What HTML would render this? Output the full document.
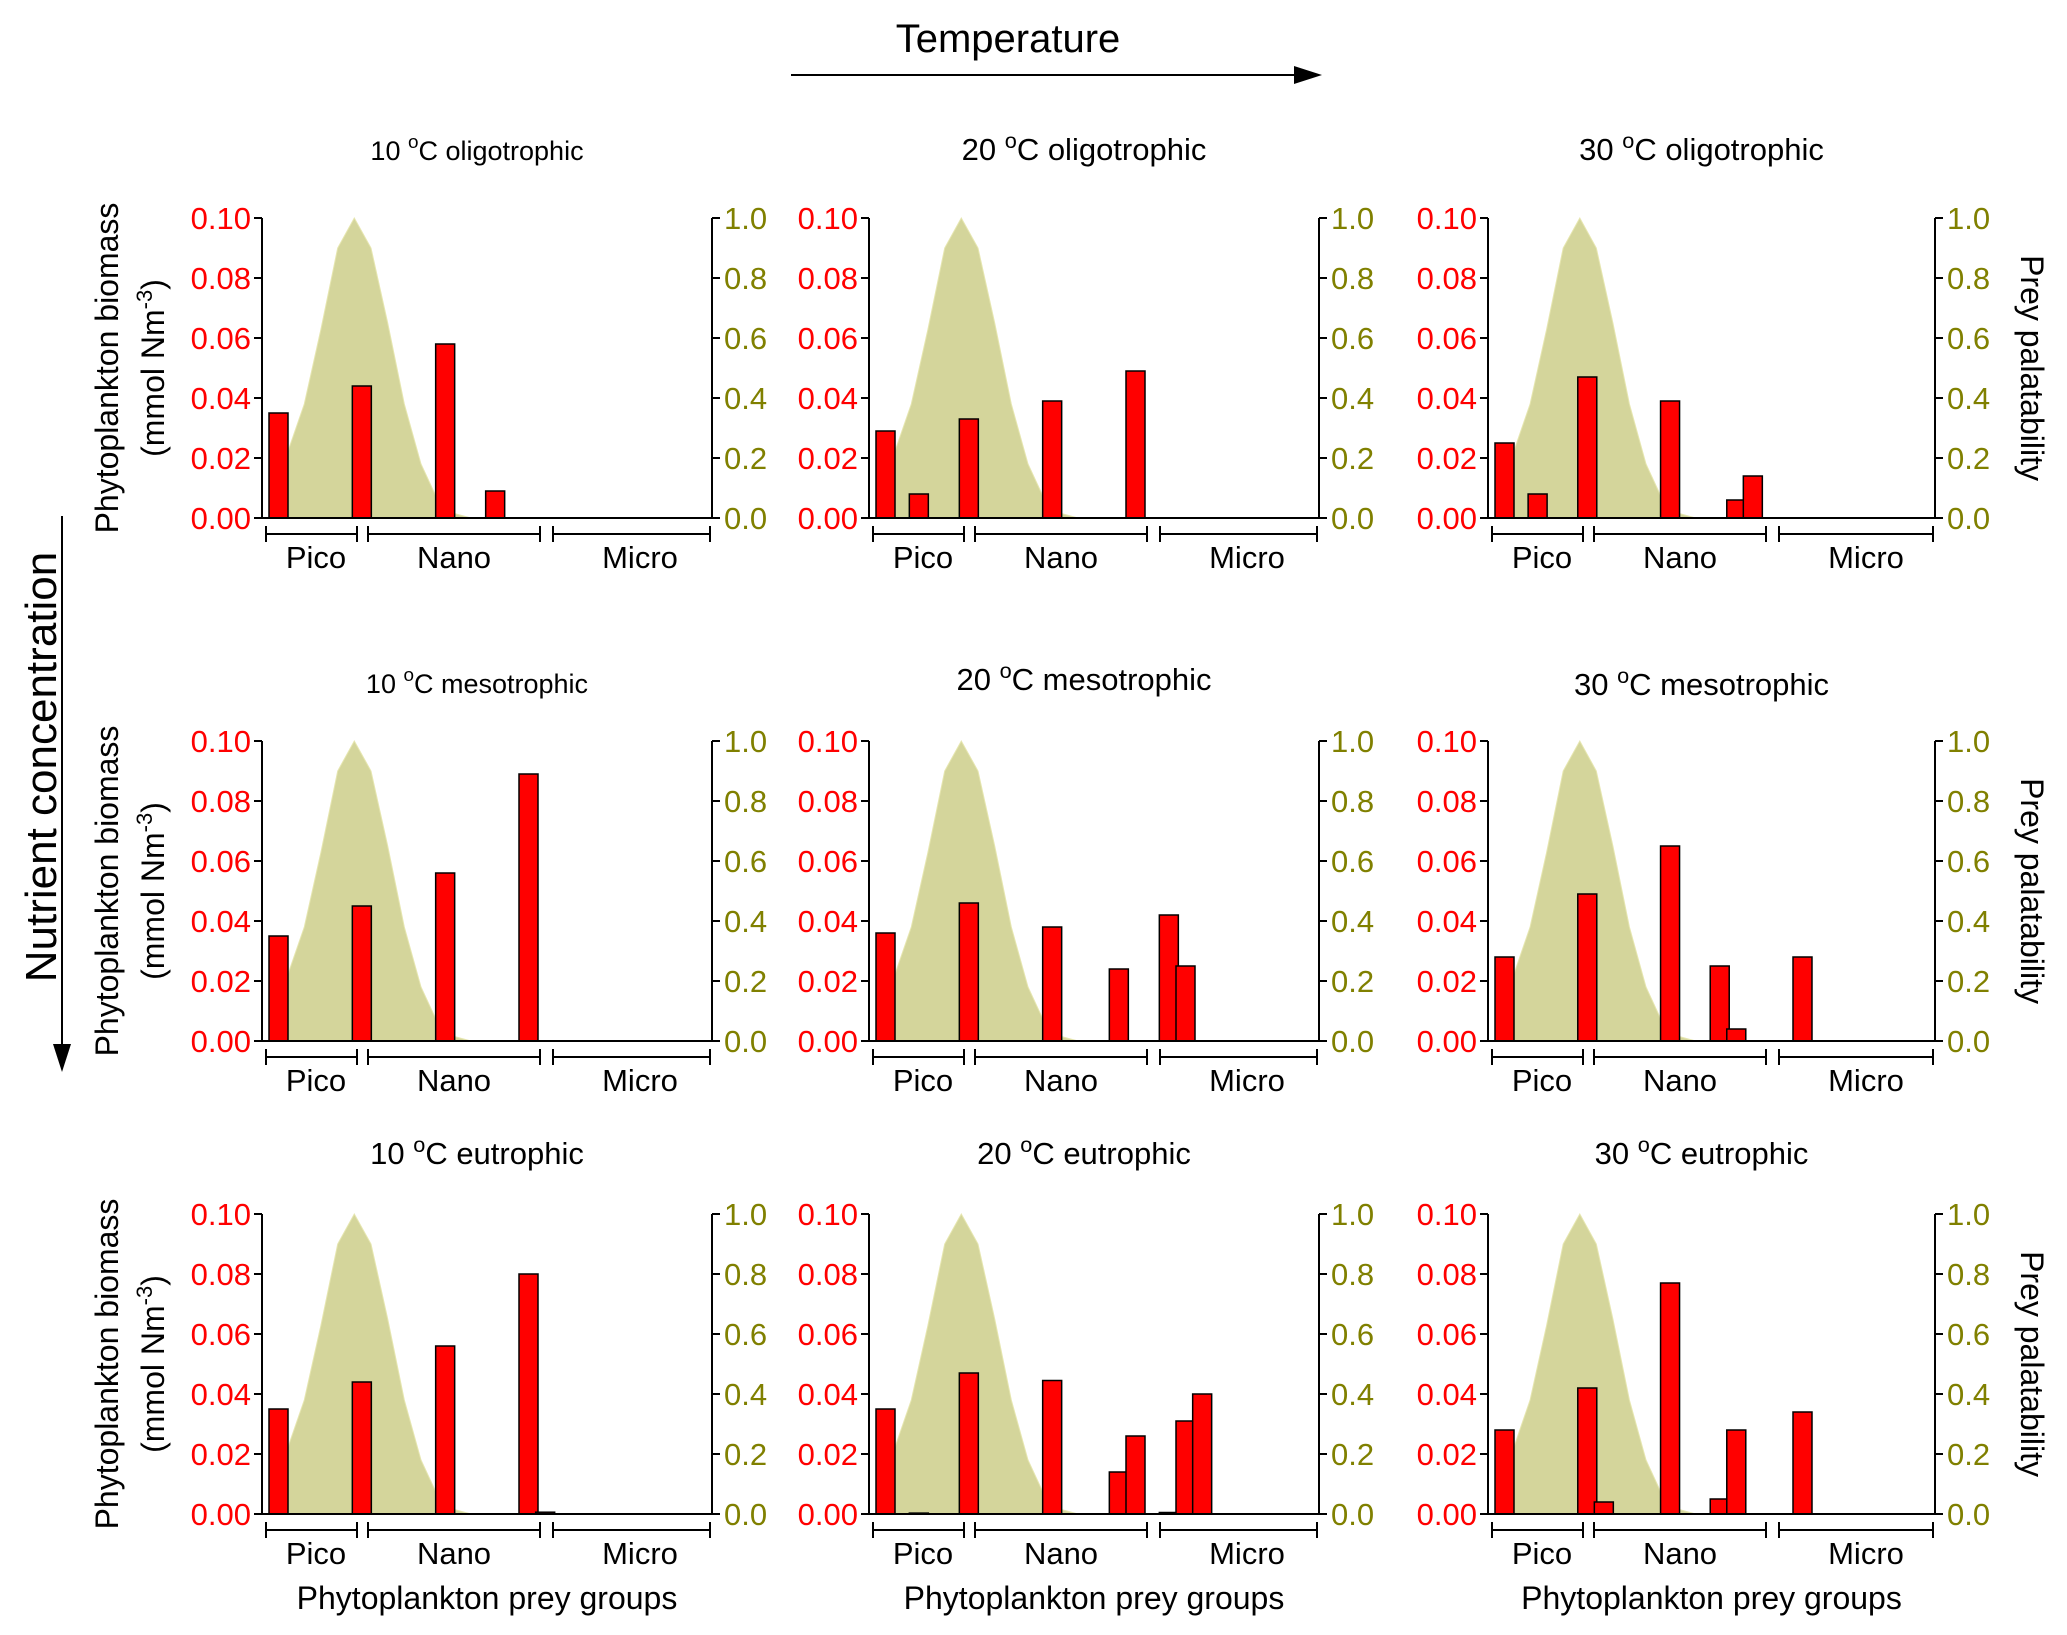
<!DOCTYPE html>
<html><head><meta charset="utf-8">
<style>
html,body{margin:0;padding:0;background:#fff;}
svg{display:block;font-family:"Liberation Sans",Arial,sans-serif;}
</style></head>
<body>
<svg id="chart" width="2067" height="1635" viewBox="0 0 2067 1635" xmlns="http://www.w3.org/2000/svg">
<text x="1008" y="52" font-size="40" text-anchor="middle">Temperature</text>
<line x1="791" y1="75" x2="1300" y2="75" stroke="#000" stroke-width="2"/>
<polygon points="1322,75 1294,66 1294,84" fill="#000"/>
<text x="0" y="0" font-size="44" text-anchor="middle" transform="translate(56,767) rotate(-90)">Nutrient concentration</text>
<line x1="62" y1="516" x2="62" y2="1050" stroke="#000" stroke-width="2"/>
<polygon points="62,1072 53,1044 71,1044" fill="#000"/>
<g id="panels"></g>
</svg>
<script>
// ---- data ----
const panelTitles = [
  "10 °C oligotrophic","20 °C oligotrophic","30 °C oligotrophic",
  "10 °C mesotrophic","20 °C mesotrophic","30 °C mesotrophic",
  "10 °C eutrophic","20 °C eutrophic","30 °C eutrophic"];
const groupLabels = ["Pico","Nano","Micro"];
const leftTicks = ["0.00","0.02","0.04","0.06","0.08","0.10"];
const rightTicks = ["0.0","0.2","0.4","0.6","0.8","1.0"];
const palatability = [0,0.22,0.38,0.63,0.9,1.0,0.9,0.65,0.38,0.18,0.06,0.015,0];
const slots1 = [0,5,10,13];           const biomass1 = [0.035,0.044,0.058,0.009];
const slots2 = [0,2,5,10,15];         const biomass2 = [0.029,0.008,0.033,0.039,0.049];
const slots3 = [0,2,5,10,14,15];      const biomass3 = [0.025,0.008,0.047,0.039,0.006,0.014];
const slots4 = [0,5,10,15];           const biomass4 = [0.035,0.045,0.056,0.089];
const slots5 = [0,5,10,14,17,18];     const biomass5 = [0.036,0.046,0.038,0.024,0.042,0.025];
const slots6 = [0,5,10,13,14,18];     const biomass6 = [0.028,0.049,0.065,0.025,0.004,0.028];
const slots7 = [0,5,10,15,16];        const biomass7 = [0.035,0.044,0.056,0.080,0.0006];
const slots8 = [0,2,5,10,14,15,17,18,19]; const biomass8 = [0.035,0.0003,0.047,0.0445,0.014,0.026,0.0005,0.031,0.040];
const slots9 = [0,5,6,10,13,14,18];   const biomass9 = [0.028,0.042,0.004,0.077,0.005,0.028,0.034];
const allSlots = [slots1,slots2,slots3,slots4,slots5,slots6,slots7,slots8,slots9];
const allBiomass = [biomass1,biomass2,biomass3,biomass4,biomass5,biomass6,biomass7,biomass8,biomass9];

// ---- layout ----
const NS = "http://www.w3.org/2000/svg";
const colX = [262, 869, 1488];
const colW = [450, 450, 447];
const rowTop = [218, 741, 1214];
const H = 300;
const titleY = [[160,160,160],[693,690,695],[1164,1164,1164]];
const titleSize = [[27,31,31],[27,31,31],[31,31,31]];
const root = document.getElementById('panels');
function mk(tag, attrs, parent){
  const e = document.createElementNS(NS, tag);
  for (const k in attrs) e.setAttribute(k, attrs[k]);
  (parent||root).appendChild(e); return e;
}
for (let p = 0; p < 9; p++){
  const r = Math.floor(p/3), c = p%3;
  const x0 = colX[c], W = colW[c], y0 = rowTop[r], yb = y0 + H;
  const pitch = W/27, off = 7, bw = 19;
  const sx = i => x0 + off + pitch*i;
  const yL = v => yb - v/0.1*H;
  const yR = v => yb - v*H;
  const g = mk('g', {});
  
  
  const t = mk('text', {x: x0+W/2-10, y: titleY[r][c], 'font-size': titleSize[r][c], 'text-anchor':'middle'}, g);
  
  
  const parts = panelTitles[p].split(' °C');
  t.innerHTML = parts[0] + ' <tspan dy="-12" font-size="' + (titleSize[r][c]*0.7) + '">o</tspan><tspan dy="12">C' + parts[1] + '</tspan>';
  let d = 'M' + sx(0) + ',' + yb;
  palatability.forEach((v,i) => { d += ' L' + (sx(i)+2).toFixed(1) + ',' + yR(v).toFixed(1); });
  d += ' L' + (sx(palatability.length-1)+2) + ',' + yb + ' Z';
  const area = mk('path', {d: d, fill: '#d4d59b', stroke: '#e6e6b0', 'stroke-width': 1}, g);
  
  
  allSlots[p].forEach((s,i) => {
    const v = allBiomass[p][i];
    const b = mk('rect', {x: sx(s), y: yL(v), width: bw, height: Math.max(0.5, yb - yL(v)), fill: '#ff0000', stroke: '#000', 'stroke-width': 1.5}, g);
    
    
  });
  const ax = mk('path', {d: 'M' + x0 + ',' + y0 + ' L' + x0 + ',' + yb + ' L' + (x0+W) + ',' + yb + ' L' + (x0+W) + ',' + y0, fill: 'none', stroke: '#000', 'stroke-width': 2}, g);
  
  
  leftTicks.forEach((lab,i) => {
    const y = yb - i*H/5;
    const tk = mk('line', {x1: x0-8, x2: x0, y1: y, y2: y, stroke: '#000', 'stroke-width': 2}, g);
    
    
    const tl = mk('text', {x: x0-11, y: y+11, 'font-size': 31, fill: '#ff0000', 'text-anchor': 'end'}, g);
    
    
    tl.textContent = lab;
  });
  rightTicks.forEach((lab,i) => {
    const y = yb - i*H/5;
    const tk = mk('line', {x1: x0+W, x2: x0+W+8, y1: y, y2: y, stroke: '#000', 'stroke-width': 2}, g);
    
    
    const tl = mk('text', {x: x0+W+12, y: y+11, 'font-size': 31, fill: '#808000'}, g);
    
    
    tl.textContent = lab;
  });
  const br = [[4,95],[106,278],[291,W-2]];
  const lc = [54,192,378];
  br.forEach((bb,i) => {
    const by = yb + 16;
    const bp = mk('path', {d: 'M' + (x0+bb[0]) + ',' + (by-8) + ' V' + (by+8) + ' M' + (x0+bb[0]) + ',' + by + ' H' + (x0+bb[1]) + ' M' + (x0+bb[1]) + ',' + (by-8) + ' V' + (by+8), fill: 'none', stroke: '#000', 'stroke-width': 2}, g);
    
    
    const gl = mk('text', {x: x0+lc[i], y: yb+50, 'font-size': 31, 'text-anchor': 'middle'}, g);
    
    
    gl.textContent = groupLabels[i];
  });
  if (c === 0){
    const cy = y0 + H/2;
    const a1 = mk('text', {x: 0, y: 0, 'font-size': 32, 'text-anchor': 'middle', transform: 'translate(118,' + cy + ') rotate(-90)'}, g);
    
    
    a1.textContent = 'Phytoplankton biomass';
    const a2 = mk('text', {x: 0, y: 0, 'font-size': 32, 'text-anchor': 'middle', transform: 'translate(164,' + cy + ') rotate(-90)'}, g);
    
    
    a2.innerHTML = '(mmol Nm<tspan dy="-12" font-size="22">-3</tspan><tspan dy="12">)</tspan>';
  }
  if (c === 2){
    const cy = y0 + H/2;
    const a3 = mk('text', {x: 0, y: 0, 'font-size': 32, 'text-anchor': 'middle', transform: 'translate(2021,' + cy + ') rotate(90)'}, g);
    
    
    a3.textContent = 'Prey palatability';
  }
  if (r === 2){
    const xl = mk('text', {x: x0+W/2, y: 1609, 'font-size': 32, 'text-anchor': 'middle'}, g);
    
    
    xl.textContent = 'Phytoplankton prey groups';
  }
}
</script>
</body></html>
